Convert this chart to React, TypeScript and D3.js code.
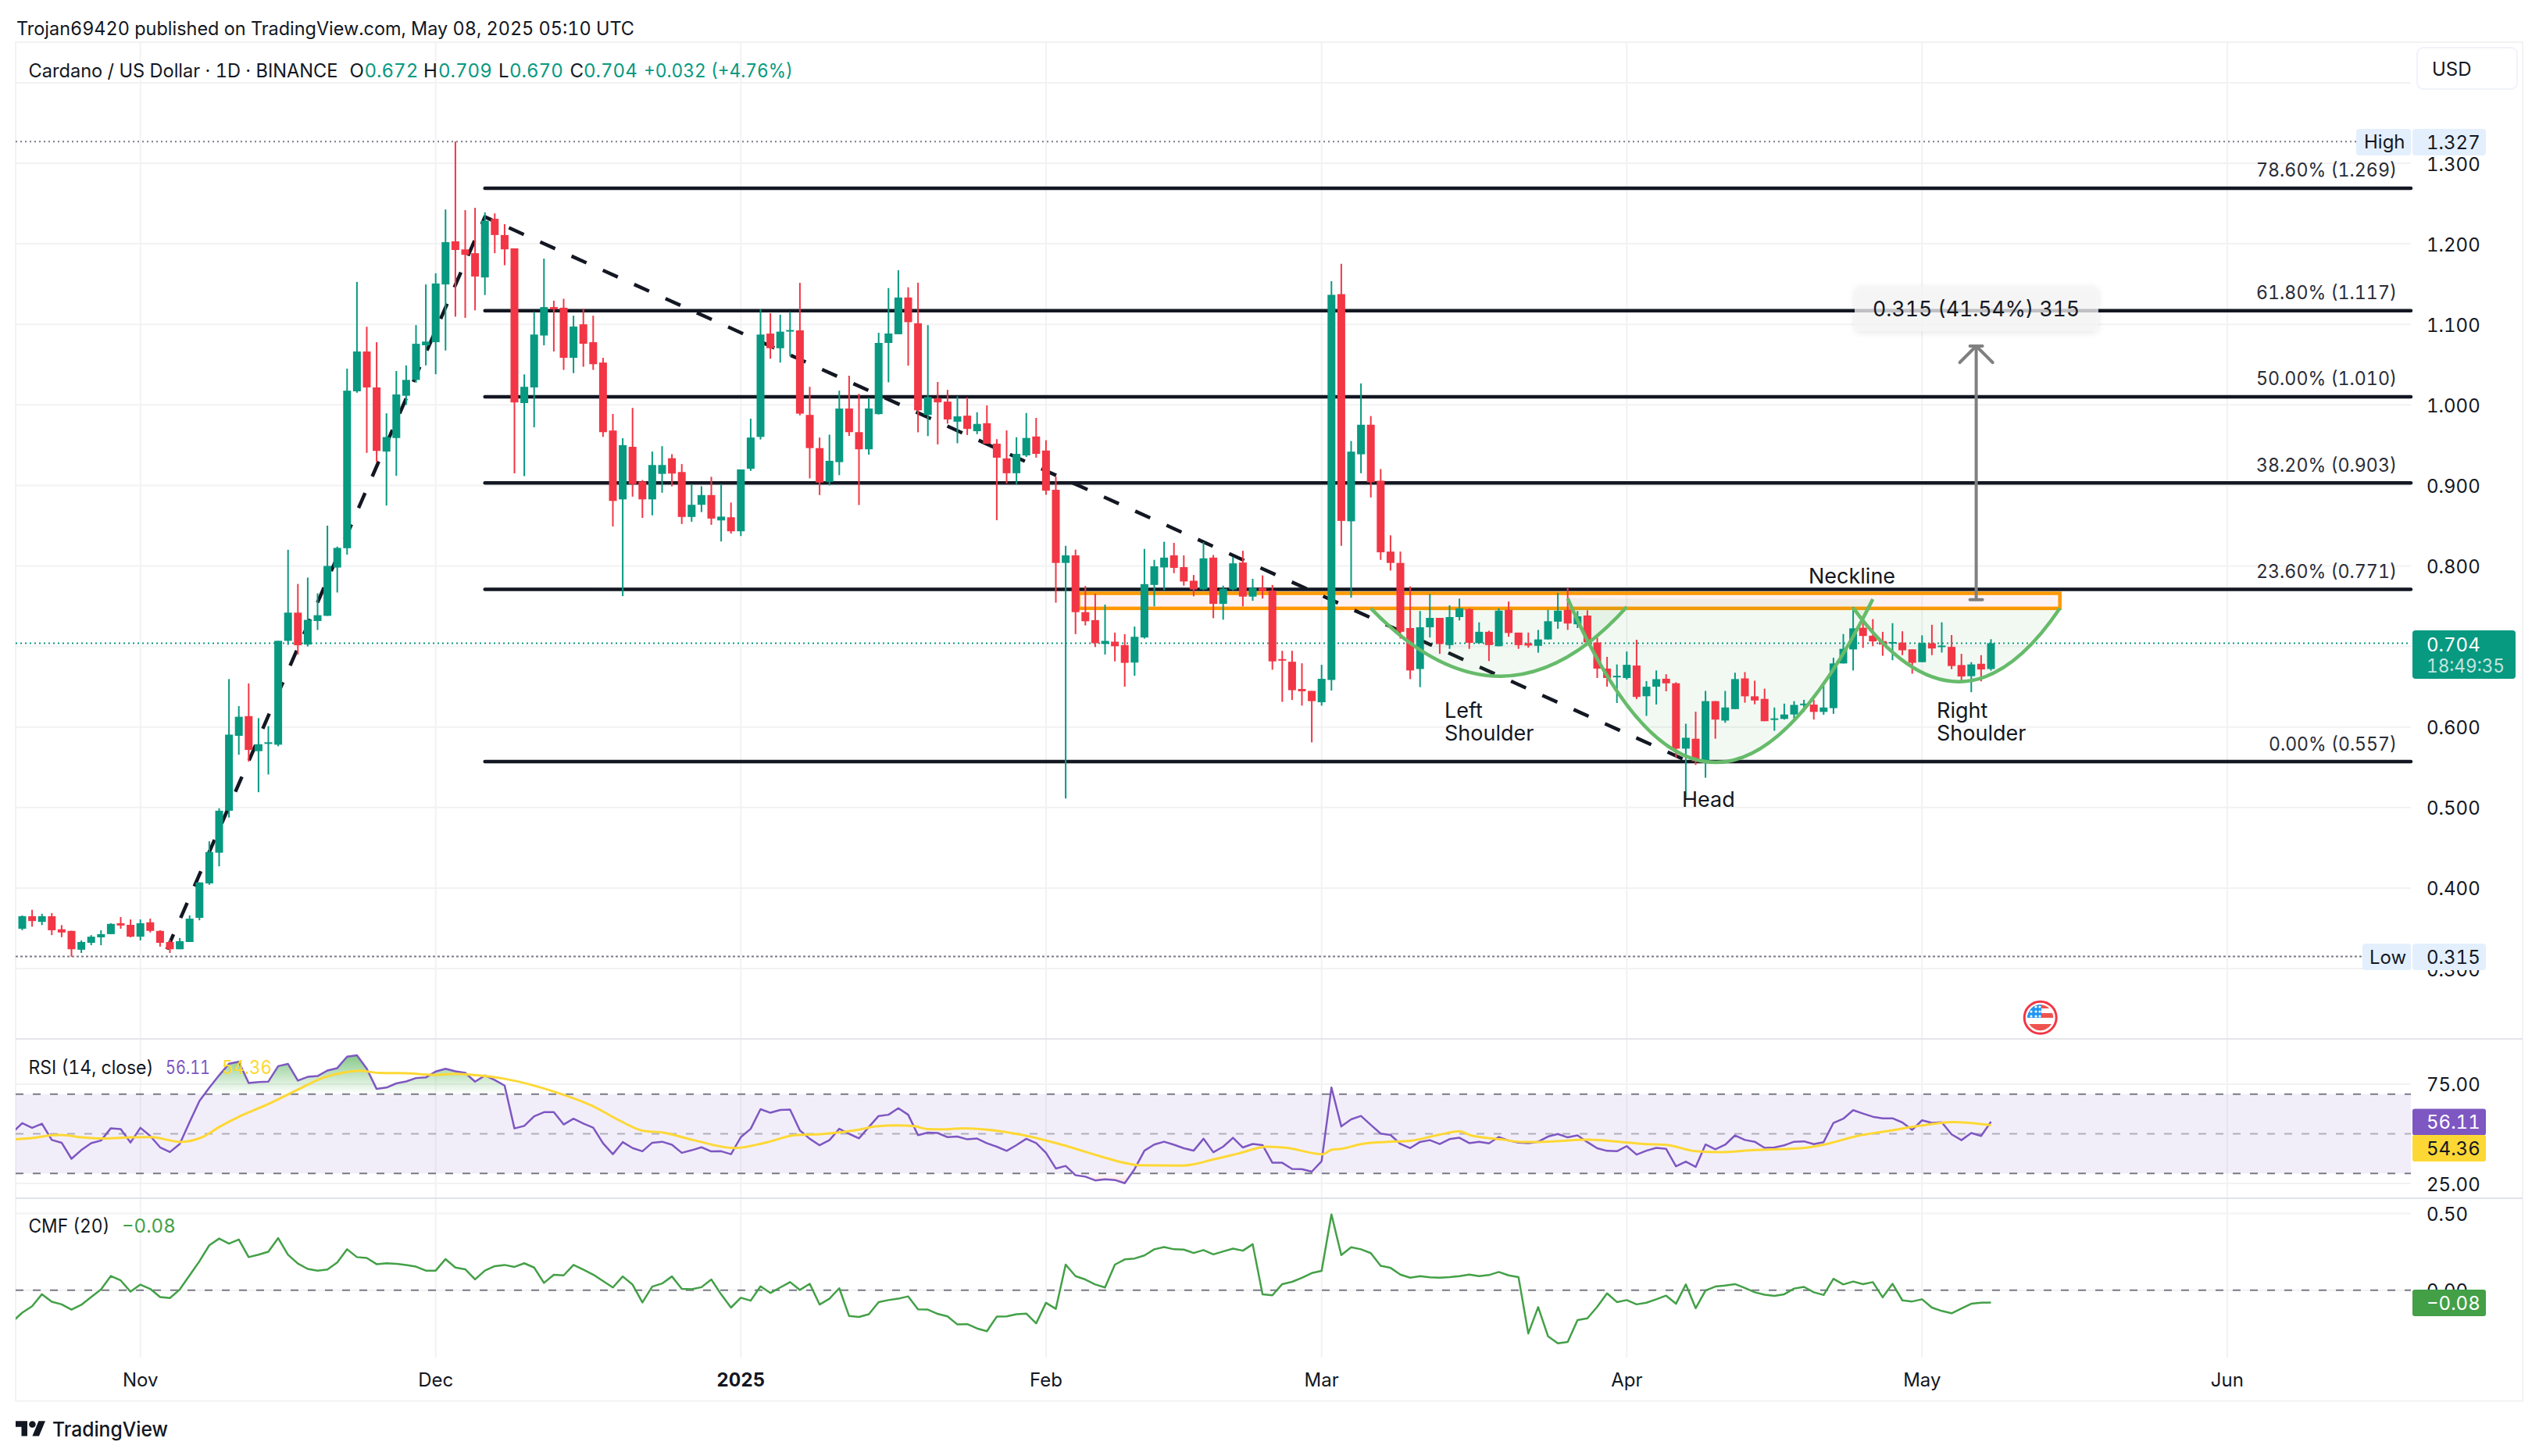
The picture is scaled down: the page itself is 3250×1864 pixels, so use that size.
import React from "react";
import * as d3 from "d3";

const WIDTH = 3250;
const HEIGHT = 1864;

// ---------- Data (day index 0 = 2024-10-20) ----------
const opens = [
  .3495,.365,.358,.365,.3488,.3468,.3234,.332,.3388,.3428,
  .3563,.3543,.3396,.3575,.3468,.333,.324,.333,.363,.4058,
  .4439,.496,.589,.6135,.57,.579,.578,.707,.742,.7023,
  .7316,.738,.798,.822,1.0168,1.0663,1.0216,.942,.9588,1.0113,
  1.031,1.074,1.0778,1.1495,1.203,1.193,1.1883,1.1582,1.231,1.2109,
  1.1943,1.0022,1.0216,1.0861,1.1214,1.1206,1.0584,1.1,1.0778,1.0525,
  .9681,.8826,.9479,.9048,.8826,.9143,.9337,.9166,.8608,.8759,
  .888,.8565,.8604,.843,.9206,.9602,1.0885,1.0703,1.0913,1.0925,
  .9875,.9463,.9044,.9289,.9954,.9661,.9448,.9885,1.0769,1.0877,
  1.1333,1.1013,.9875,1.0082,1.004,.9791,.9866,.9673,.9772,.9518,
  .9335,.9151,.9372,.9607,.9433,.8945,.8037,.8131,.7426,.7327,
  .7031,.7059,.7017,.68,.7111,.7764,.7981,.8131,.7985,.7816,
  .7708,.8103,.7529,.7708,.8042,.7619,.7727,.7694,.6843,.681,
  .6472,.6448,.6307,.6584,1.1375,.8554,.9386,.9753,.9058,.8178,
  .8037,.7229,.672,.7238,.7355,.7017,.7365,.7464,.7041,.7182,
  .7003,.7454,.7172,.704,.7008,.7087,.7308,.7454,.7275,.7384,
  .705,.6725,.6617,.6608,.6763,.6382,.65,.6599,.6543,.5731,
  .5854,.5568,.6321,.608,.6222,.6603,.6381,.6349,.6092,.61,
  .6155,.6274,.6278,.6187,.6234,.6789,.6963,.7233,.7134,.7067,
  .7039,.7047,.6964,.6805,.7039,.6995,.6995,.6769,.6631,.6785,.672,
];
const closes = [
  .365,.359,.365,.3476,.3448,.324,.333,.3396,.3428,.3555,
  .3535,.3396,.3563,.3468,.332,.324,.334,.362,.407,.4447,
  .496,.5905,.6127,.5715,.5786,.581,.707,.742,.7015,.733,
  .7388,.8,.8224,1.0176,1.0663,1.0216,.9428,.96,1.0129,1.031,
  1.0758,1.0786,1.1507,1.202,1.1923,1.1863,1.1594,1.2287,1.2109,1.1931,
  1.003,1.0224,1.0873,1.1214,1.1186,1.0584,1.0972,1.0758,1.0505,.9661,
  .8807,.95,.9016,.8826,.9253,.9253,.9147,.8608,.8759,.888,
  .8588,.8612,.843,.9198,.9594,1.0873,1.0703,1.0909,1.0929,.9891,
  .9463,.9036,.9305,.9954,.9661,.9448,.9955,1.0769,1.0886,1.1333,
  1.1027,.9932,1.0096,1.0031,.9819,.9857,.9701,.9763,.9518,.9344,
  .9151,.9391,.9589,.9391,.8935,.8037,.8131,.7426,.7313,.704,
  .7069,.7003,.6796,.712,.7774,.7995,.8103,.7976,.7807,.7708,
  .8094,.7529,.7717,.8032,.7619,.7727,.7685,.6815,.6824,.6457,
  .6443,.6321,.6598,1.1366,.8559,.9419,.9753,.9039,.8169,.8037,
  .7182,.6702,.7238,.7355,.7031,.7365,.7473,.7045,.7182,.7017,
  .7445,.7167,.7017,.7012,.7087,.7313,.7445,.7285,.7374,.705,
  .6725,.6608,.6636,.6772,.6373,.65,.6594,.6542,.5731,.5866,
  .5576,.6321,.6092,.6242,.6595,.6381,.6329,.6072,.6107,.6155,
  .6274,.629,.6187,.6242,.6789,.6971,.7225,.713,.7063,.7023,
  .7055,.6952,.6797,.7043,.6975,.7011,.6757,.6627,.6777,.6714,.704,
];
const highs = [
  .366,.373,.368,.369,.354,.347,.335,.3416,.3476,.3563,
  .364,.361,.361,.362,.3476,.3357,.338,.366,.407,.458,
  .499,.6595,.626,.654,.611,.601,.707,.82,.7776,.7855,
  .766,.85,.824,1.045,1.1527,1.097,1.0778,.9895,1.042,1.049,
  1.099,1.1495,1.1634,1.2426,1.327,1.2418,1.2446,1.239,1.2378,1.2244,
  1.1943,1.0378,1.1154,1.1816,1.1293,1.1317,1.1107,1.1194,1.1107,1.0584,
  .9887,.9586,.9962,.9067,.942,.9487,.9388,.9265,.9016,.899,
  .9107,.9016,.8787,.9198,.9828,1.1186,1.1139,1.1119,1.1154,1.1515,
  1.0224,.9594,.963,1.0176,1.0362,1.0137,1.0087,1.0895,1.145,1.1671,
  1.146,1.1516,1.099,1.0284,1.0186,1.0106,1.0092,.9908,.9993,.9574,
  .9683,.9598,.9899,.9838,.956,.9109,.8249,.8202,.775,.7656,
  .752,.7172,.7153,.7247,.8211,.8075,.83,.8286,.8131,.7887,
  .8296,.8136,.7755,.8112,.8188,.784,.7882,.7764,.6946,.6946,
  .6791,.6448,.6772,1.1535,1.1751,.9551,1.0266,.9861,.9203,.838,
  .8178,.7746,.744,.7652,.7355,.751,.7595,.7473,.7299,.7196,
  .7473,.7558,.7172,.7172,.7205,.7454,.7666,.7727,.744,.7449,
  .7111,.6871,.6777,.6937,.7083,.657,.6702,.6655,.6555,.604,
  .619,.6448,.6321,.6448,.6674,.6682,.6575,.6476,.6242,.629,
  .6321,.6337,.6337,.6508,.686,.7154,.7487,.7332,.734,.7181,
  .7289,.7189,.6964,.7138,.7269,.73,.7142,.6908,.6805,.6892,.709,
];
const lows = [
  .3476,.352,.354,.3416,.339,.3147,.3194,.329,.329,.3428,
  .3495,.3388,.335,.3448,.3273,.3194,.324,.333,.36,.404,
  .427,.4875,.5655,.557,.519,.541,.576,.702,.69,.70,
  .7205,.738,.767,.814,1.015,.9404,.929,.875,.9119,1.0,
  1.0275,1.049,1.038,1.0675,1.1095,1.108,1.1174,1.1364,1.1883,1.1733,
  .915,.9115,.9721,1.0739,1.0663,1.0434,1.0394,1.0473,1.0434,.9602,
  .849,.7625,.886,.8596,.8628,.8909,.8988,.8521,.8549,.8668,
  .851,.8304,.8402,.8371,.918,.957,1.0572,1.0525,1.0604,.987,
  .9087,.888,.90,.9127,.9614,.8756,.9382,.988,1.028,1.0877,
  1.0487,.9659,.9612,.9509,.9767,.9523,.9626,.9636,.9518,.8568,
  .9024,.9015,.9354,.9344,.8883,.7544,.5113,.7153,.7261,.6993,
  .69,.6815,.65,.6636,.7097,.7497,.7699,.791,.7755,.7623,
  .7699,.7351,.7332,.7694,.7497,.7567,.7595,.6711,.6312,.6335,
  .6265,.5809,.6265,.6453,.8249,.7605,.9151,.885,.8075,.7943,
  .7097,.6594,.6495,.7111,.6909,.697,.7323,.697,.7041,.6819,
  .7003,.712,.697,.6984,.6923,.7087,.7219,.7205,.7229,.704,
  .6608,.65,.6298,.6589,.6345,.6138,.6279,.6443,.5616,.512,
  .5529,.537,.5854,.6052,.6222,.6302,.6282,.6072,.5953,.6092,
  .6103,.6187,.6092,.6151,.6163,.6789,.6702,.6982,.7003,.6884,
  .6829,.6892,.6662,.6805,.6892,.6924,.6718,.6547,.6432,.6567,.67,
];

// RSI values; the first one belongs to day index -1
const rsiValues = [
  50.6,
  55.4,53.0,55.1,46.9,45.5,37.4,41.8,45.3,46.6,52.8,
  52.4,45.6,53.0,48.9,43.2,40.8,44.9,55.9,66.5,73.2,
  79.5,85.3,86.3,75.6,76.1,76.3,84.1,85.2,76.8,78.7,
  79.1,81.9,83.1,88.9,89.6,82.8,72.6,73.3,75.4,76.4,
  78.1,78.4,81.4,82.8,81.5,80.7,76.3,79.4,77.1,74.3,
  52.7,54.0,58.8,60.9,60.9,54.7,57.6,55.2,53.1,45.2,
  39.7,45.8,42.8,41.2,45.5,46.0,44.5,40.4,41.7,43.2,
  41.1,41.2,39.7,48.3,52.5,62.4,60.6,62.0,62.2,51.7,
  47.5,44.2,46.8,52.5,50.0,47.7,
  53.4,59.0,59.6,62.9,59.6,49.3,50.6,50.4,48.3,48.6,47.2,47.6,45.2,43.5,
  41.4,44.3,47.5,45.3,40.4,32.5,33.8,29.1,28.4,26.5,
  27.1,26.7,25.1,32.2,41.5,44.6,46.0,44.5,42.7,41.5,
  47.5,40.7,43.5,48.0,43.1,44.9,44.3,35.4,35.4,32.3,
  32.2,30.9,36.2,73.3,53.7,57.3,59.0,54.5,50.1,49.4,
  44.9,42.8,45.9,46.8,44.8,47.3,48.0,45.3,46.0,45.2,
  48.4,46.6,45.6,45.3,46.0,48.6,49.9,48.2,49.2,45.8,
  42.7,41.4,41.2,43.8,39.5,41.5,42.9,42.4,33.6,36.0,
  33.3,44.6,42.2,44.5,49.2,46.9,46.0,42.9,43.1,44.2,
  46.0,46.2,44.8,45.8,55.5,57.6,61.9,60.2,58.6,57.8,
  57.8,55.7,52.0,56.8,55.5,55.8,49.7,46.8,50.4,48.9,56.11,
];

// RSI moving average: [day index, value]
const rsiMa: [number, number][] = [
  [-1,47.1],[1.1,47.9],[3.1,49.3],[4,49.4],[6.1,48.2],[8.4,47.6],[11.1,48.2],[13.1,48.3],[16.1,45.9],[18.4,48.6],
  [20,53.4],[22.3,59.3],[25,65.0],[27.8,71.8],[30.6,78.3],[32.9,81.1],[34.2,81.8],[36.2,80.7],[39,80.5],[41.8,79.7],
  [44,80.2],[46.2,79.5],[49,77.7],[54.3,70.8],[57.9,64.1],[60.7,56.6],[63,51.6],[65.1,50.6],[68.2,46.8],[72.4,42.8],
  [75.7,45.8],[78.5,49.3],[81.3,49.9],[85,52.1],[86.7,53.7],[88.9,54.2],[90.6,53.8],[92,52.4],[93.9,52.3],[95.6,52.8],
  [98.9,51.6],[101.7,49.3],[105.6,44.5],[109.5,38.7],[112.3,35.0],[113.4,34.2],[117.9,34.0],[121.2,37.3],[123.5,40.0],[126.5,43.5],
  [128.5,42.9],[131.3,40.1],[132.1,39.7],[133,41.9],[134,42.4],[136,44.8],[138.5,45.9],[141,46.5],[144,49.6],[146,51.3],
  [147.1,49.3],[150.2,47.2],[152.4,45.9],[154.1,45.9],[159.1,47.0],[162.4,45.9],[164.7,44.9],[166.9,44.5],[170,41.2],[172.4,40.7],
  [176,41.8],[180.7,42.7],[183,44.5],[186.5,49.0],[189.4,51.3],[192.9,54.1],[196.1,55.9],[200,54.36],
];

// CMF values; the first one belongs to day index -1
const cmfValues = [
  -.205,
  -.146,-.104,-.026,-.075,-.092,-.126,-.095,-.044,.005,.093,
  .064,-.009,.037,.009,-.044,-.051,.005,.097,.189,.293,
  .337,.304,.331,.216,.232,.251,.340,.231,.174,.139,
  .128,.135,.181,.267,.216,.210,.170,.176,.172,.165,
  .154,.128,.128,.203,.148,.137,.071,.128,.157,.165,
  .152,.176,.148,.048,.101,.097,.165,.134,.102,.060,
  .018,.090,.037,-.079,.024,.044,.090,.009,.007,.020,
  .070,-.027,-.113,-.049,-.068,.026,-.018,.018,.053,.002,
  .042,-.093,-.055,.013,-.168,-.174,
  -.156,-.077,-.064,-.055,-.040,-.124,-.126,-.154,-.170,-.223,-.221,-.249,-.267,-.172,
  -.170,-.156,-.152,-.216,-.082,-.121,.167,.092,.070,.038,
  .018,.167,.201,.207,.227,.267,.282,.267,.265,.243,
  .262,.234,.253,.271,.258,.300,-.026,-.033,.040,.055,
  .081,.112,.126,.494,.229,.280,.267,.242,.159,.146,
  .102,.082,.092,.084,.082,.086,.092,.102,.092,.099,
  .119,.097,.086,-.282,-.110,-.300,-.346,-.337,-.194,-.183,
  -.108,-.020,-.077,-.064,-.092,-.081,-.059,-.035,-.088,.038,
  -.117,-.002,.024,.031,.040,.015,-.013,-.029,-.037,-.026,
  .011,.022,-.013,-.031,.075,.038,.057,.040,.053,-.046,
  .042,-.066,-.073,-.059,-.113,-.135,-.150,-.119,-.088,-.081,-.08,
];

const priceTicks = [1.3, 1.2, 1.1, 1.0, 0.9, 0.8, 0.7, 0.6, 0.5, 0.4, 0.3];
const extraGridPrices = [1.4];
const timeTicks = [
  { day: 12, label: "Nov" },
  { day: 42, label: "Dec" },
  { day: 73, label: "2025", bold: true },
  { day: 104, label: "Feb" },
  { day: 132, label: "Mar" },
  { day: 163, label: "Apr" },
  { day: 193, label: "May" },
  { day: 224, label: "Jun" },
];
const fibLevels = [
  { price: 1.269, label: "78.60% (1.269)" },
  { price: 1.117, label: "61.80% (1.117)" },
  { price: 1.01, label: "50.00% (1.010)" },
  { price: 0.903, label: "38.20% (0.903)" },
  { price: 0.771, label: "23.60% (0.771)" },
  { price: 0.557, label: "0.00% (0.557)" },
];
const fibStartDay = 47;
const trendPoints: [number, number][] = [[14.7, 0.3238], [47, 1.2334], [169.3, 0.557]];
const necklineZone = { day0: 107.3, day1: 207, top: 0.766, bottom: 0.7473 };
const arcs = [
  { a: [137, 0.7473], b: [163, 0.749], low: [150.2, 0.663] },
  { a: [157, 0.7595], b: [188, 0.7588], low: [172, 0.556] },
  { a: [186, 0.748], b: [207, 0.7473], low: [196.7, 0.6563] },
];
const arrow = { day: 198.5, from: 0.758, to: 1.073 };
const currentPrice = 0.704;
const highPrice = 1.327;
const lowPrice = 0.315;

// ---------- Scales ----------
const FONT = "Inter, sans-serif";
const GREEN = "#089981";
const RED = "#f23645";
const INK = "#131722";
const GRID = "#f2f2f3";
const LEFT = 20;
const PANE_RIGHT = 3086;
const BORDER_RIGHT = 3229;
const AXIS_X = 3106;

const x = d3.scaleLinear().domain([0, 200]).range([28.5, 2548.5]);
const yP = d3.scaleLinear().domain([1.3, 0.3]).range([209, 1240]);
const yR = d3.scaleLinear().domain([75, 25]).range([1388, 1515]);
const yC = d3.scaleLinear().domain([0.5, 0]).range([1553.6, 1651.8]);

const rsiPts = rsiValues.map((v, i) => [i - 1, v] as [number, number]);
const cmfPts = cmfValues.map((v, i) => [i - 1, v] as [number, number]);

const rsiLine = d3.line<[number, number]>().x((d) => x(d[0])).y((d) => yR(d[1]));
const maLine = d3.line<[number, number]>().x((d) => x(d[0])).y((d) => yR(d[1])).curve(d3.curveMonotoneX);
const cmfLine = d3.line<[number, number]>().x((d) => x(d[0])).y((d) => yC(d[1]));
const rsiAreaHigh = d3.area<[number, number]>().x((d) => x(d[0])).y0(yR(70)).y1((d) => yR(d[1]));
const rsiAreaLow = d3.area<[number, number]>().x((d) => x(d[0])).y0(yR(30)).y1((d) => yR(d[1]));
const trendLine = d3.line<[number, number]>().x((d) => x(d[0])).y((d) => yP(d[1]));

function arcPath(a: number[], b: number[], low: number[], close: boolean) {
  const ax = x(a[0]), ay = yP(a[1]);
  const bx = x(b[0]), by = yP(b[1]);
  const cx = 2 * x(low[0]) - (ax + bx) / 2;
  const cy = 2 * yP(low[1]) - (ay + by) / 2;
  const p = d3.path();
  p.moveTo(ax, ay);
  p.quadraticCurveTo(cx, cy, bx, by);
  if (close) p.closePath();
  return p.toString();
}

const Txt = (props: any) => (
  <text
    fontFamily={FONT}
    fontSize={24}
    fill={INK}
    dominantBaseline="central"
    lengthAdjust="spacingAndGlyphs"
    style={{ fontVariantNumeric: "tabular-nums" }}
    {...props}
  />
);

export default function App() {
  const bodyW = 10;
  const arrowTop = yP(arrow.to);
  const arrowX = x(arrow.day);
  const dash = "10 12";
  return (
    <svg
      width={WIDTH}
      height={HEIGHT}
      viewBox={`0 0 ${WIDTH} ${HEIGHT}`}
      style={{ position: "absolute", left: 0, top: 0, background: "#fff" }}
    >
      <defs>
        <linearGradient id="obGrad" gradientUnits="userSpaceOnUse" x1="0" x2="0" y1={yR(90)} y2={yR(70)}>
          <stop offset="0" stopColor="#4caf50" stopOpacity={0.7} />
          <stop offset="1" stopColor="#4caf50" stopOpacity={0} />
        </linearGradient>
        <linearGradient id="osGrad" gradientUnits="userSpaceOnUse" x1="0" x2="0" y1={yR(30)} y2={yR(25)}>
          <stop offset="0" stopColor="#f23645" stopOpacity={0} />
          <stop offset="1" stopColor="#f23645" stopOpacity={0.2} />
        </linearGradient>
        <clipPath id="paneClip"><rect x={LEFT} y={54} width={PANE_RIGHT - LEFT} height={1738 - 54} /></clipPath>
        <clipPath id="obClip"><rect x={LEFT} y={1300} width={PANE_RIGHT - LEFT} height={yR(70) - 1300} /></clipPath>
        <clipPath id="osClip"><rect x={LEFT} y={yR(30)} width={PANE_RIGHT - LEFT} height={40} /></clipPath>
        <filter id="boxShadow" x="-10%" y="-30%" width="120%" height="170%">
          <feDropShadow dx="0" dy="2" stdDeviation="4" floodColor="#000" floodOpacity="0.12" />
        </filter>
      </defs>

      <rect x={0} y={0} width={WIDTH} height={HEIGHT} fill="#fff" />

      {/* frame and grid */}
      {timeTicks.map((t) => (
        <line key={t.label} x1={x(t.day)} x2={x(t.day)} y1={54} y2={1738} stroke={GRID} strokeWidth={2} />
      ))}
      {[...extraGridPrices, ...priceTicks].map((p) => (
        <line key={p} x1={LEFT} x2={PANE_RIGHT} y1={yP(p)} y2={yP(p)} stroke={GRID} strokeWidth={2} />
      ))}
      {[75, 25].map((v) => (
        <line key={v} x1={LEFT} x2={PANE_RIGHT} y1={yR(v)} y2={yR(v)} stroke={GRID} strokeWidth={2} />
      ))}
      {[0.5, 0].map((v) => (
        <line key={v} x1={LEFT} x2={PANE_RIGHT} y1={yC(v)} y2={yC(v)} stroke={GRID} strokeWidth={2} />
      ))}
      <rect x={LEFT} y={54} width={BORDER_RIGHT - LEFT} height={1793.5 - 54} fill="none" stroke={GRID} strokeWidth={2} />
      <line x1={LEFT} x2={BORDER_RIGHT} y1={1330} y2={1330} stroke="#e4e5ea" strokeWidth={2} />
      <line x1={LEFT} x2={BORDER_RIGHT} y1={1534} y2={1534} stroke="#e0e3eb" strokeWidth={2} />

      {/* high / low / current dotted */}
      <line x1={LEFT} x2={3016} y1={yP(highPrice)} y2={yP(highPrice)} stroke="#787b86" strokeWidth={2} strokeDasharray="2 4" />
      <line x1={LEFT} x2={3024} y1={yP(lowPrice)} y2={yP(lowPrice)} stroke="#787b86" strokeWidth={2} strokeDasharray="3 3" />
      <line x1={LEFT} x2={PANE_RIGHT} y1={yP(currentPrice)} y2={yP(currentPrice)} stroke={GREEN} strokeWidth={2} strokeDasharray="2 4" />

      {/* neckline zone */}
      <rect
        x={x(necklineZone.day0)}
        y={yP(necklineZone.top)}
        width={x(necklineZone.day1) - x(necklineZone.day0)}
        height={yP(necklineZone.bottom) - yP(necklineZone.top)}
        fill="#f23645"
        fillOpacity={0.06}
        stroke="#ff9800"
        strokeWidth={4.5}
      />

      {/* fib levels */}
      {fibLevels.map((f) => (
        <g key={f.label}>
          <line x1={x(fibStartDay)} x2={PANE_RIGHT} y1={yP(f.price)} y2={yP(f.price)} stroke={INK} strokeWidth={4.5} strokeLinecap="round" />
          <Txt x={3068} y={yP(f.price) - 23} textAnchor="end" fill="#2a2e39" textLength={f.label.length === 13 ? 164 : 180}>{f.label}</Txt>
        </g>
      ))}

      {/* dashed trend */}
      <path d={trendLine(trendPoints) || ""} fill="none" stroke={INK} strokeWidth={4.5} strokeDasharray="21 23" strokeLinejoin="round" />

      {/* arcs fill */}
      {arcs.map((a, i) => (
        <path key={i} d={arcPath(a.a, a.b, a.low, true)} fill="#4caf50" fillOpacity={0.07} stroke="none" />
      ))}

      {/* candles */}
      {opens.map((o, i) => {
        const c = closes[i];
        const col = c >= o ? GREEN : RED;
        const top = yP(Math.max(o, c));
        const bot = yP(Math.min(o, c));
        return (
          <g key={i}>
            <line x1={x(i)} x2={x(i)} y1={yP(highs[i])} y2={yP(lows[i])} stroke={col} strokeWidth={2} />
            <rect x={x(i) - bodyW / 2} y={top} width={bodyW} height={Math.max(bot - top, 2)} fill={col} />
          </g>
        );
      })}

      {/* arcs stroke */}
      {arcs.map((a, i) => (
        <path key={i} d={arcPath(a.a, a.b, a.low, false)} fill="none" stroke="#66bb6a" strokeWidth={4.5} />
      ))}

      {/* annotation texts */}
      <Txt x={2315} y={737} fontSize={27}>Neckline</Txt>
      <Txt x={1849} y={909} fontSize={27}>Left</Txt>
      <Txt x={1849} y={938} fontSize={27}>Shoulder</Txt>
      <Txt x={2153} y={1023} fontSize={27}>Head</Txt>
      <Txt x={2479} y={909} fontSize={27}>Right</Txt>
      <Txt x={2479} y={938} fontSize={27}>Shoulder</Txt>

      {/* measure arrow */}
      <g stroke="#808080" strokeWidth={4}>
        <line x1={arrowX} x2={arrowX} y1={yP(arrow.from)} y2={arrowTop} />
        <line x1={arrowX - 8} x2={arrowX + 8} y1={yP(arrow.from)} y2={yP(arrow.from)} strokeLinecap="round" />
        <line x1={arrowX - 8} x2={arrowX + 8} y1={arrowTop} y2={arrowTop} strokeLinecap="round" />
        <line x1={arrowX - 21} x2={arrowX} y1={arrowTop + 21} y2={arrowTop} strokeLinecap="round" />
        <line x1={arrowX + 21} x2={arrowX} y1={arrowTop + 21} y2={arrowTop} strokeLinecap="round" />
      </g>
      <rect x={2374} y={366} width={312} height={58} rx={7} fill="#f6f6f6" fillOpacity={0.75} filter="url(#boxShadow)" />
      <Txt x={arrowX} y={395} textAnchor="middle" fontSize={26.5} textLength={265}>0.315 (41.54%) 315</Txt>

      {/* price axis */}
      {priceTicks.map((p) => (
        <Txt key={p} x={AXIS_X} y={yP(p) + 1} fill="#131722">{p.toFixed(3)}</Txt>
      ))}

      {/* high badge */}
      <rect x={3016} y={165} width={70} height={34} rx={4} fill="#e3effd" />
      <rect x={3088} y={165} width={94} height={34} rx={4} fill="#e3effd" />
      <Txt x={3026} y={181}>High</Txt>
      <Txt x={AXIS_X} y={182}>1.327</Txt>

      {/* low badge */}
      <rect x={3024} y={1208} width={62} height={34} rx={4} fill="#e3effd" />
      <rect x={3088} y={1208} width={94} height={34} rx={4} fill="#e3effd" />
      <Txt x={3033} y={1225.5}>Low</Txt>
      <Txt x={AXIS_X} y={1225.5}>0.315</Txt>

      {/* current price badge */}
      <rect x={3088} y={807} width={132} height={62} rx={4} fill={GREEN} />
      <Txt x={AXIS_X} y={825} fill="#fff">0.704</Txt>
      <Txt x={AXIS_X} y={852} fill="#fff" fillOpacity={0.75} textLength={100}>18:49:35</Txt>

      {/* USD */}
      <rect x={3094} y={61} width={128} height={53} rx={8} fill="#fff" stroke="#f0f3fa" strokeWidth={2} />
      <Txt x={3113} y={88}>USD</Txt>

      {/* header */}
      <Txt x={21} y={36} textLength={791}>Trojan69420 published on TradingView.com, May 08, 2025 05:10 UTC</Txt>
      <Txt x={36.5} y={90} textLength={396}>Cardano / US Dollar · 1D · BINANCE</Txt>
      <Txt x={447.5} y={90}>O</Txt>
      <Txt x={466.5} y={90} fill={GREEN}>0.672</Txt>
      <Txt x={542} y={90}>H</Txt>
      <Txt x={561} y={90} fill={GREEN}>0.709</Txt>
      <Txt x={638} y={90}>L</Txt>
      <Txt x={652} y={90} fill={GREEN}>0.670</Txt>
      <Txt x={729.6} y={90}>C</Txt>
      <Txt x={747} y={90} fill={GREEN}>0.704</Txt>
      <Txt x={824} y={90} fill={GREEN} textLength={191}>+0.032 (+4.76%)</Txt>

      {/* earnings flag */}
      <g>
        <circle cx={2611.7} cy={1302.7} r={20.5} fill="#fff" stroke="#f23645" strokeWidth={3} />
        <clipPath id="flagClip"><circle cx={2611.7} cy={1302.7} r={16.5} /></clipPath>
        <g clipPath="url(#flagClip)">
          <rect x={2594} y={1285} width={36} height={6} fill="#ef5350" />
          <rect x={2594} y={1297} width={36} height={6} fill="#ef5350" />
          <rect x={2594} y={1311} width={36} height={10} fill="#ef5350" />
          <rect x={2594} y={1285} width={19} height={18} fill="#2196f3" />
          {[1289, 1295, 1301].map((cy) =>
            [2600, 2606, 2611].map((cx) => <circle key={`${cx}-${cy}`} cx={cx} cy={cy} r={1.6} fill="#fff" />)
          )}
        </g>
      </g>

      {/* RSI pane */}
      <rect x={LEFT} y={yR(70)} width={PANE_RIGHT - LEFT} height={yR(30) - yR(70)} fill="#7e57c2" fillOpacity={0.1} />
      <path d={rsiAreaHigh(rsiPts) || ""} fill="url(#obGrad)" clipPath="url(#obClip)" />
      <path d={rsiAreaLow(rsiPts) || ""} fill="url(#osGrad)" clipPath="url(#osClip)" />
      <line x1={LEFT} x2={PANE_RIGHT} y1={yR(70)} y2={yR(70)} stroke="#787b86" strokeWidth={2} strokeDasharray={dash} />
      <line x1={LEFT} x2={PANE_RIGHT} y1={yR(50)} y2={yR(50)} stroke="#787b86" strokeOpacity={0.55} strokeWidth={2} strokeDasharray={dash} />
      <line x1={LEFT} x2={PANE_RIGHT} y1={yR(30)} y2={yR(30)} stroke="#787b86" strokeWidth={2} strokeDasharray={dash} />
      <g clipPath="url(#paneClip)">
        <path d={rsiLine(rsiPts) || ""} fill="none" stroke="#7e57c2" strokeWidth={2.5} strokeLinejoin="round" />
        <path d={maLine(rsiMa) || ""} fill="none" stroke="#fdd835" strokeWidth={3} />
      </g>
      <Txt x={36.5} y={1366} textLength={160}>RSI (14, close)</Txt>
      <Txt x={212} y={1366} fill="#7e57c2" textLength={57}>56.11</Txt>
      <Txt x={284} y={1366} fill="#fdd835" textLength={64}>54.36</Txt>
      <Txt x={AXIS_X} y={1388.5}>75.00</Txt>
      <Txt x={AXIS_X} y={1516}>25.00</Txt>
      <rect x={3088} y={1419.5} width={94} height={34} rx={3} fill="#7e57c2" />
      <Txt x={AXIS_X} y={1436.5} fill="#fff">56.11</Txt>
      <rect x={3088} y={1453} width={94} height={34} rx={3} fill="#fdd835" />
      <Txt x={AXIS_X} y={1470} fill="#131722">54.36</Txt>

      {/* CMF pane */}
      <line x1={LEFT} x2={PANE_RIGHT} y1={yC(0)} y2={yC(0)} stroke="#787b86" strokeWidth={2} strokeDasharray={dash} />
      <g clipPath="url(#paneClip)">
        <path d={cmfLine(cmfPts) || ""} fill="none" stroke="#43a047" strokeWidth={2.5} strokeLinejoin="round" />
      </g>
      <Txt x={36.5} y={1569.5} textLength={104}>CMF (20)</Txt>
      <Txt x={156} y={1569.5} fill="#43a047">−0.08</Txt>
      <Txt x={AXIS_X} y={1554}>0.50</Txt>
      <Txt x={AXIS_X} y={1652}>0.00</Txt>
      <rect x={3088} y={1651} width={94} height={34} rx={3} fill="#43a047" />
      <Txt x={AXIS_X} y={1668.5} fill="#fff">−0.08</Txt>

      {/* time axis */}
      {timeTicks.map((t) => (
        <Txt key={t.label} x={x(t.day)} y={1766.5} textAnchor="middle" fontWeight={t.bold ? 700 : 400}>{t.label}</Txt>
      ))}

      {/* TradingView logo */}
      <g transform="translate(20,1815) scale(1.07)" fill="#131722">
        <path d="M14 22H7V11H0V4h14v18zM28 22h-8l7.5-18h8L28 22z" />
        <circle cx={20} cy={8} r={4} />
      </g>
      <Txt x={67} y={1829.5} fontSize={26} fontWeight={500} textLength={148}>TradingView</Txt>
    </svg>
  );
}
